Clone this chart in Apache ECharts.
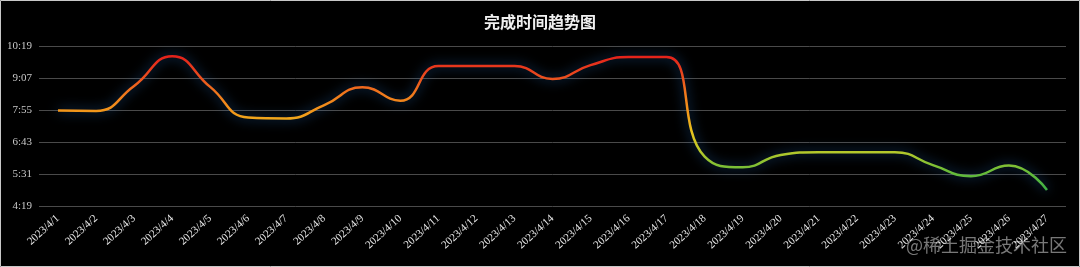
<!DOCTYPE html>
<html>
<head>
<meta charset="utf-8">
<script src="https://cdn.jsdelivr.net/npm/echarts@6/dist/echarts.min.js"></script>
<style>
html,body{margin:0;padding:0;background:#000;}
#chart{width:1080px;height:267px;}
</style>
</head>
<body>
<div id="chart"></div>
<script>
const categories = ['2023/4/1','2023/4/2','2023/4/3','2023/4/4','2023/4/5','2023/4/6','2023/4/7','2023/4/8','2023/4/9','2023/4/10','2023/4/11','2023/4/12','2023/4/13','2023/4/14','2023/4/15','2023/4/16','2023/4/17','2023/4/18','2023/4/19','2023/4/20','2023/4/21','2023/4/22','2023/4/23','2023/4/24','2023/4/25','2023/4/26','2023/4/27'];
const completionTimes = ['7:54','7:53','8:49','9:56','8:47','7:38','7:36','8:06','8:46','8:16','9:34','9:34','9:34','9:05','9:36','9:54','9:54','6:10','5:46','6:14','6:20','6:20','6:20','5:51','5:26','5:50','4:55'];
const yTickLabels = ['4:19','5:31','6:43','7:55','9:07','10:19'];

function toMinutes(s){ const p = s.split(':'); return (+p[0])*60 + (+p[1]); }
function toClock(m){ m = Math.round(m); const h = Math.floor(m/60), mm = m%60; return h + ':' + (mm<10?'0':'') + mm; }

const axisBase = toMinutes(yTickLabels[0]);
const axisStep = toMinutes(yTickLabels[1]) - axisBase;
const axisTop = toMinutes(yTickLabels[yTickLabels.length-1]) - axisBase;
const seriesData = completionTimes.map(t => toMinutes(t) - axisBase);

const chart = echarts.init(document.getElementById('chart'));
chart.setOption({
  backgroundColor: '#000',
  animation: false,
  title: {
    text: '完成时间趋势图',
    left: 'center',
    top: 9,
    textStyle: { color: '#f0f0f0', fontSize: 16, fontWeight: 'bold', fontFamily: 'Noto Sans CJK SC' }
  },
  grid: { left: 39, right: 14, top: 46, bottom: 61 },
  xAxis: {
    type: 'category',
    data: categories,
    boundaryGap: true,
    axisLine: { show: false },
    axisTick: { show: false },
    axisLabel: {
      interval: 0,
      rotate: 42,
      margin: 11,
      color: '#e6e6e6',
      fontSize: 11,
      fontFamily: 'Liberation Serif'
    }
  },
  yAxis: {
    type: 'value',
    min: 0,
    max: axisTop,
    interval: axisStep,
    axisLine: { show: false },
    axisTick: { show: false },
    axisLabel: {
      margin: 7,
      color: '#c8c8c8',
      fontSize: 11,
      fontFamily: 'Liberation Serif',
      formatter: v => toClock(v + axisBase)
    },
    splitLine: { lineStyle: { color: '#4a4a4a', width: 1 } }
  },
  visualMap: {
    type: 'continuous',
    show: false,
    dimension: 1,
    seriesIndex: 0,
    min: toMinutes('4:55') - axisBase,
    max: toMinutes('9:56') - axisBase,
    inRange: { color: ['#3cae45', '#6cbd38', '#b6c82a', '#e6c41e', '#f29a1a', '#f07a1c', '#ea4a1e', '#e4221a'] }
  },
  series: [{
    type: 'line',
    data: seriesData,
    smooth: true,
    symbol: 'none',
    lineStyle: { width: 2.5, shadowColor: 'rgba(40,120,210,0.7)', shadowBlur: 12 }
  }],
  graphic: [
    { type: 'text', left: 906, top: 236, style: { text: '@稀土掘金技术社区', fill: 'rgba(200,200,200,0.6)', fontSize: 18, fontFamily: 'Noto Sans CJK SC' } },
    { type: 'rect', shape: { x: 0.5, y: 0.5, width: 1079, height: 266 }, style: { fill: 'none', stroke: '#c8c8c8', lineWidth: 1 } }
  ]
});
</script>
</body>
</html>
